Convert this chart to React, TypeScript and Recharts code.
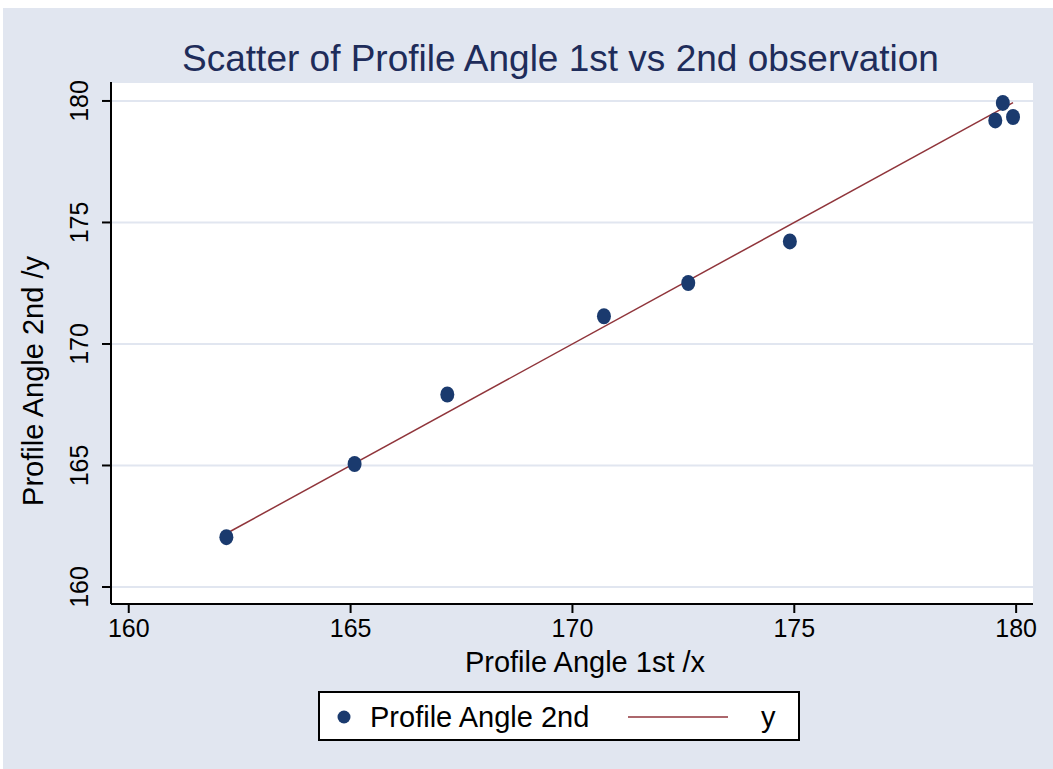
import { CartesianGrid, Scatter, ScatterChart, XAxis, YAxis } from 'recharts';

const firstObs = [162.2, 165.09, 167.18, 170.71, 172.61, 174.9, 179.53, 179.7, 179.93];
const secondObs = [162.05, 165.06, 167.92, 171.14, 172.51, 174.22, 179.2, 179.92, 179.34];
const lineX = [162.2, 179.93];
const lineY = [162.2, 179.93];
const ticks = [160, 165, 170, 175, 180];

const points = firstObs.map((x, i) => ({ x, y: secondObs[i] }));
const fitLine = lineX.map((x, i) => ({ x, y: lineY[i] }));

const FONT = '"Liberation Sans", Arial, sans-serif';
const NAVY = '#1a3a6e';
const MAROON = '#90353b';
const BG = '#e1e6f0';

const YTick = (props: any) => {
  const { x, y, payload } = props;
  return (
    <text
      x={x - 14}
      y={y}
      transform={`rotate(-90, ${x - 14}, ${y})`}
      textAnchor='middle'
      fontSize={25}
      fontFamily={FONT}
      fill='#000'
    >
      {payload.value}
    </text>
  );
};

// legend drawn by hand, Stata style box
const LegendBox = () => (
  <div
    style={{
      position: 'absolute',
      left: 315,
      top: 683,
      width: 478,
      height: 46,
      border: '2px solid #000',
      background: '#fff',
    }}
  >
    <svg width={478} height={46} style={{ position: 'absolute', left: 0, top: 0 }}>
      <circle cx={24} cy={24} r={6.5} fill={NAVY} />
      <line x1={308} x2={408} y1={24} y2={24} stroke={MAROON} strokeWidth={1.5} />
      <text x={50} y={34} fontSize={29} fontFamily={FONT}>Profile Angle 2nd</text>
      <text x={441} y={34} fontSize={29} fontFamily={FONT}>y</text>
    </svg>
  </div>
);

export default function App() {
  return (
    <div
      style={{
        position: 'absolute',
        left: 3,
        top: 8,
        width: 1050,
        height: 761,
        background: BG,
        fontFamily: FONT,
      }}
    >
      <ScatterChart
        width={1050}
        height={761}
        margin={{ top: 74, right: 20, left: 0, bottom: 105 }}
        style={{ position: 'absolute', left: 0, top: 0 }}
      >
        <CartesianGrid
          horizontal
          vertical={false}
          stroke={BG}
          strokeWidth={2}
          fill='#fff'
        />
        <XAxis
          type='number'
          dataKey='x'
          domain={[159.6, 180.38]}
          ticks={ticks}
          allowDataOverflow
          height={60}
          tickSize={9}
          tickMargin={6}
          axisLine={{ stroke: '#000', strokeWidth: 2 }}
          tickLine={{ stroke: '#000', strokeWidth: 2 }}
          tick={{ fontSize: 25, fontFamily: FONT, fill: '#000' }}
        />
        <YAxis
          type='number'
          dataKey='y'
          domain={[159.3, 180.78]}
          ticks={ticks}
          allowDataOverflow
          width={108}
          tickSize={9}
          tickMargin={0}
          axisLine={{ stroke: '#000', strokeWidth: 2 }}
          tickLine={{ stroke: '#000', strokeWidth: 2 }}
          tick={<YTick />}
        />
        <Scatter
          name='y'
          data={fitLine}
          line={{ stroke: MAROON, strokeWidth: 1.5 }}
          shape={() => <g />}
          isAnimationActive={false}
        />
        <Scatter
          name='Profile Angle 2nd'
          data={points}
          isAnimationActive={false}
          shape={(p: any) => <ellipse cx={p.cx} cy={p.cy} rx={7} ry={8} fill={NAVY} />}
        />
      </ScatterChart>
      <div
        style={{
          position: 'absolute',
          top: 30,
          left: 0,
          width: 1115,
          textAlign: 'center',
          fontSize: 37,
          color: '#1e2c5a',
        }}
      >
        Scatter of Profile Angle 1st vs 2nd observation
      </div>
      <div
        style={{
          position: 'absolute',
          left: 30,
          top: 373,
          transform: 'translate(-50%, -50%) rotate(-90deg)',
          fontSize: 29,
          whiteSpace: 'nowrap',
        }}
      >
        Profile Angle 2nd /y
      </div>
      <div
        style={{
          position: 'absolute',
          left: 582,
          top: 654,
          transform: 'translate(-50%, -50%)',
          fontSize: 29,
          whiteSpace: 'nowrap',
        }}
      >
        Profile Angle 1st /x
      </div>
      <LegendBox />
    </div>
  );
}
